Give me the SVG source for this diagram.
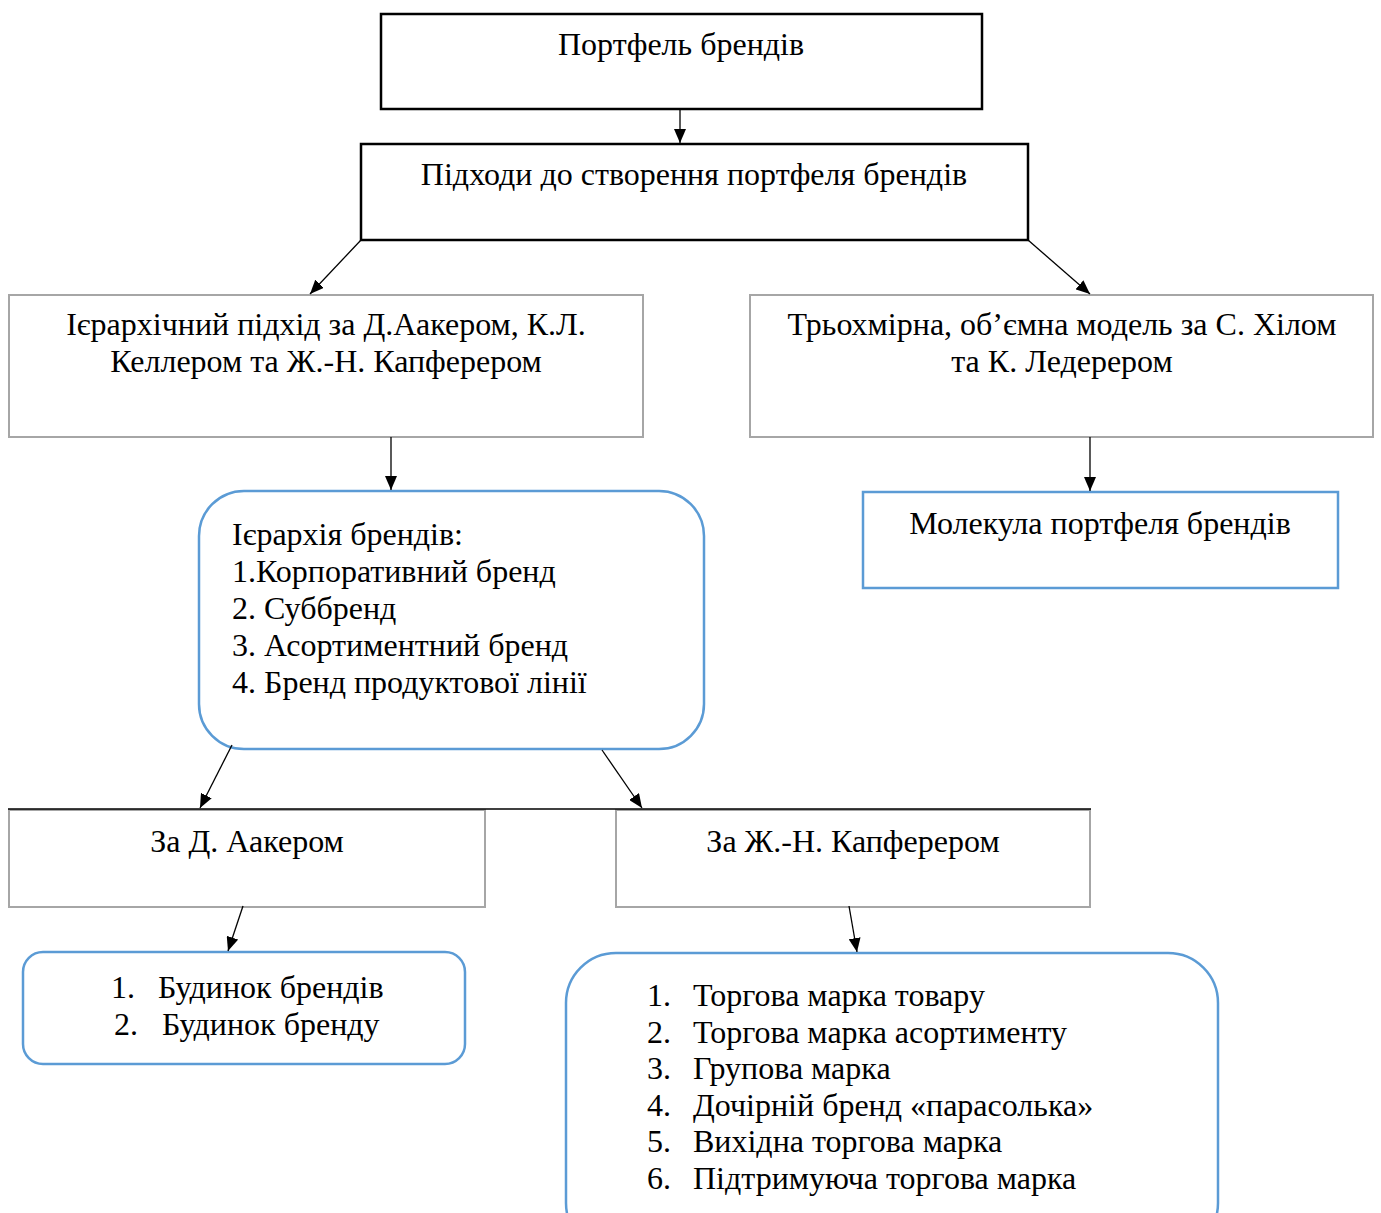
<svg xmlns="http://www.w3.org/2000/svg" width="1381" height="1213" viewBox="0 0 1381 1213">
  <style>
    text { font-family: "Liberation Serif", "Times New Roman", serif; font-size: 32px; fill: #000; }
    .c { text-anchor: middle; }
    .dark { fill: #fff; stroke: #000; stroke-width: 2.5; }
    .grey { fill: #fff; stroke: #a6a6a6; stroke-width: 2; }
    .blue { fill: #fff; stroke: #5b9bd5; stroke-width: 2.5; }
    .link { stroke: #000; stroke-width: 1.3; fill: none; marker-end: url(#head); }
  </style>
  <defs>
    <marker id="head" viewBox="0 0 14 12" refX="14" refY="6" markerWidth="14" markerHeight="12" markerUnits="userSpaceOnUse" orient="auto">
      <path d="M0,0 L14,6 L0,12 Z" fill="#000"/>
    </marker>
  </defs>

  <g id="portfolio">
    <rect class="dark" x="381" y="14" width="601" height="95"/>
    <text class="c" x="681" y="55">Портфель брендів</text>
  </g>

  <g id="approaches">
    <rect class="dark" x="361" y="144" width="667" height="96"/>
    <text class="c" x="694" y="185">Підходи до створення портфеля брендів</text>
  </g>

  <g id="hierarchical">
    <rect class="grey" x="9" y="295" width="634" height="142"/>
    <text class="c" x="326" y="335">Ієрархічний підхід за Д.Аакером, К.Л.</text>
    <text class="c" x="326" y="372">Келлером та Ж.-Н. Капферером</text>
  </g>

  <g id="three-dimensional">
    <rect class="grey" x="750" y="295" width="623" height="142"/>
    <text class="c" x="1062" y="335">Трьохмірна, об’ємна модель за С. Хілом</text>
    <text class="c" x="1062" y="372">та К. Ледерером</text>
  </g>

  <g id="brand-hierarchy">
    <rect class="blue" x="199" y="491" width="505" height="258" rx="45"/>
    <text x="232" y="545">Ієрархія брендів:</text>
    <text x="232" y="582">1.Корпоративний бренд</text>
    <text x="232" y="619">2. Суббренд</text>
    <text x="232" y="656">3. Асортиментний бренд</text>
    <text x="232" y="693">4. Бренд продуктової лінії</text>
  </g>

  <g id="molecule">
    <rect class="blue" x="863" y="492" width="475" height="96"/>
    <text class="c" x="1100" y="534">Молекула портфеля брендів</text>
  </g>

  <g id="aaker">
    <rect class="grey" x="9" y="810" width="476" height="97"/>
    <text class="c" x="247" y="852">За Д. Аакером</text>
  </g>

  <g id="kapferer">
    <rect class="grey" x="616" y="810" width="474" height="97"/>
    <text class="c" x="853" y="852">За Ж.-Н. Капферером</text>
  </g>

  <g id="aaker-list">
    <rect class="blue" x="23" y="952" width="442" height="112" rx="20"/>
    <text x="111" y="998">1.</text>
    <text x="158" y="998">Будинок брендів</text>
    <text x="114" y="1035">2.</text>
    <text x="162" y="1035">Будинок бренду</text>
  </g>

  <g id="kapferer-list">
    <rect class="blue" x="566" y="953" width="652" height="300" rx="50"/>
    <text x="647" y="1006">1.</text>
    <text x="693" y="1006">Торгова марка товару</text>
    <text x="647" y="1043">2.</text>
    <text x="693" y="1043">Торгова марка асортименту</text>
    <text x="647" y="1079">3.</text>
    <text x="693" y="1079">Групова марка</text>
    <text x="647" y="1116">4.</text>
    <text x="693" y="1116">Дочірній бренд «парасолька»</text>
    <text x="647" y="1152">5.</text>
    <text x="693" y="1152">Вихідна торгова марка</text>
    <text x="647" y="1189">6.</text>
    <text x="693" y="1189">Підтримуюча торгова марка</text>
  </g>

  <g id="connectors">
    <line class="link" x1="680" y1="110" x2="680" y2="143"/>
    <line class="link" x1="361" y1="240" x2="310" y2="294"/>
    <line class="link" x1="1028" y1="240" x2="1090" y2="294"/>
    <line class="link" x1="391" y1="437" x2="391" y2="490"/>
    <line class="link" x1="1090" y1="437" x2="1090" y2="491"/>
    <line class="link" x1="232" y1="745" x2="200" y2="808"/>
    <line class="link" x1="602" y1="750" x2="642" y2="808"/>
    <line class="link" x1="243" y1="906" x2="228" y2="951"/>
    <line class="link" x1="849" y1="906" x2="857" y2="952"/>
    <line x1="8" y1="809" x2="1091" y2="809" stroke="#000" stroke-width="1.5"/>
  </g>
</svg>
